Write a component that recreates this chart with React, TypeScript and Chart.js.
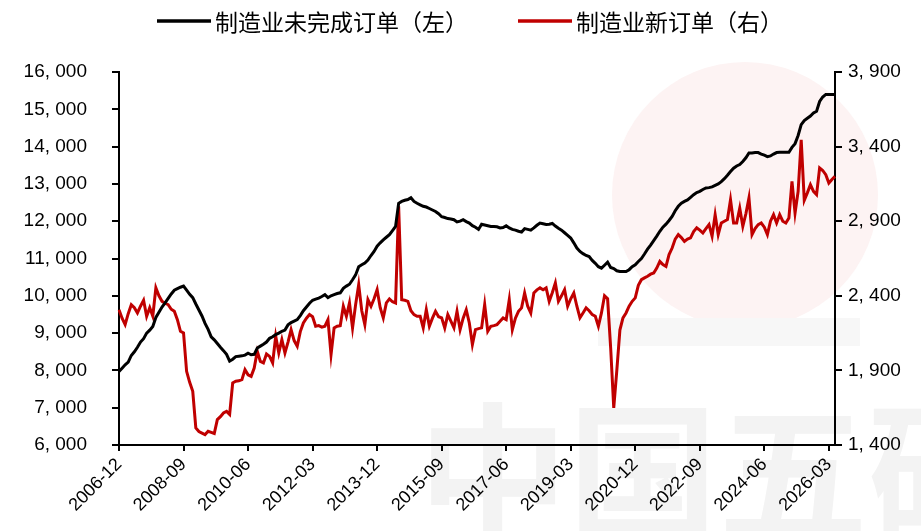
import React, { useEffect, useRef } from 'react';
import { Chart, registerables } from 'chart.js';

Chart.register(...registerables);

// ---- data ----
const START_YEAR = 2006;
const START_MONTH = 12;
const LABEL_STEP = 21;

const seriesNames = ['制造业未完成订单（左）', '制造业新订单（右）'];

// 制造业未完成订单 (left axis), monthly from 2006-12
const unfilledOrders = [
  7970, 8060, 8150, 8220, 8400, 8500, 8620, 8760, 8850, 9000, 9080, 9180,
  9420, 9560, 9700, 9810, 9930, 10050, 10150, 10190, 10230, 10260, 10150, 10040,
  9950, 9780, 9620, 9460, 9260, 9100, 8900, 8820, 8720, 8620, 8530, 8430,
  8250, 8300, 8370, 8380, 8390, 8410, 8460, 8420, 8430, 8600, 8650, 8700,
  8760, 8860, 8900, 8960, 9000, 9050, 9080, 9220, 9280, 9320, 9360, 9470,
  9600, 9700, 9800, 9880, 9910, 9940, 9980, 10030, 9950, 10000, 10030, 10060,
  10080, 10200, 10260, 10310, 10430, 10560, 10780, 10830, 10880, 10960, 11080, 11190,
  11330, 11420, 11500, 11570, 11640, 11750, 11860, 12480, 12530, 12560, 12580, 12630,
  12530, 12480, 12440, 12400, 12380, 12340, 12300, 12260, 12200, 12120, 12100, 12070,
  12060, 12040, 11980, 12000, 12040, 11990, 11950, 11880, 11840, 11780, 11920, 11900,
  11880, 11860, 11860, 11850, 11820, 11830, 11880, 11820, 11780, 11760, 11730, 11710,
  11800, 11780, 11760, 11820, 11890, 11950, 11930, 11910, 11920, 11940, 11870, 11810,
  11760, 11690, 11620, 11550, 11420, 11280, 11190, 11130, 11080, 11050, 10950, 10870,
  10780, 10740, 10820, 10900, 10760, 10730, 10670, 10650, 10650, 10650, 10700, 10780,
  10830, 10920, 11000, 11120, 11250, 11360, 11480, 11600, 11730, 11840, 11920, 12020,
  12130, 12280, 12400, 12480, 12530, 12570, 12640, 12710, 12770, 12800, 12850, 12890,
  12900, 12920, 12960, 13000, 13060, 13140, 13230, 13330, 13420, 13480, 13520, 13600,
  13700, 13830, 13830, 13840, 13840, 13800, 13770, 13730, 13750, 13800, 13840, 13850,
  13850, 13850, 13850, 13980, 14080, 14300, 14590, 14700, 14760, 14820, 14900, 14950,
  15210, 15330, 15400, 15400, 15400, 15400,
];

// 制造业新订单 (right axis), monthly from 2006-12
const newOrders = [
  2307, 2250, 2207, 2280, 2340, 2320, 2285, 2330, 2370, 2263, 2320, 2263,
  2453, 2400, 2363, 2350, 2341, 2310, 2296, 2240, 2162, 2151, 1894, 1820,
  1760, 1515, 1490, 1480, 1470, 1492, 1485, 1477, 1570, 1590, 1615, 1625,
  1605, 1816, 1827, 1830, 1838, 1905, 1870, 1860, 1916, 2028, 1960, 1950,
  2010, 1994, 1950, 2129, 2017, 2106, 2017, 2090, 2173, 2100, 2062, 2160,
  2218, 2250, 2274, 2260, 2196, 2200, 2190, 2196, 2240, 2006, 2185, 2196,
  2200, 2330, 2263, 2352, 2185, 2341, 2475, 2300, 2207, 2374, 2330, 2380,
  2441, 2320, 2252, 2352, 2379, 2360, 2352, 3000, 2374, 2370, 2363, 2300,
  2274, 2263, 2263, 2185, 2307, 2196, 2250, 2296, 2260, 2252, 2185, 2274,
  2230, 2185, 2296, 2173, 2250, 2307, 2218, 2073, 2173, 2180, 2185, 2341,
  2162, 2196, 2200, 2207, 2229, 2252, 2240, 2374, 2173, 2250, 2296, 2319,
  2419, 2330, 2285, 2419, 2440, 2453, 2440, 2453, 2363, 2420, 2486, 2363,
  2400, 2441, 2330, 2380, 2419, 2330, 2252, 2285, 2319, 2300, 2274, 2263,
  2196, 2285, 2400, 2380, 2050, 1649, 1900, 2170, 2252, 2285, 2330, 2363,
  2386, 2470, 2508, 2520, 2531, 2545, 2553, 2586, 2631, 2610, 2597, 2676,
  2720, 2780, 2810, 2790, 2765, 2780, 2788, 2830, 2855, 2840, 2821, 2850,
  2877, 2799, 2944, 2810, 2888, 2900, 2911, 3044, 2888, 2888, 2988, 2866,
  2950, 3056, 2810, 2850, 2877, 2888, 2860, 2810, 2900, 2944, 2888, 2944,
  2900, 2888, 2922, 3167, 2955, 3100, 3446, 3040, 3090, 3145, 3100, 3078,
  3257, 3240, 3212, 3156, 3180, 3200,
];

const months = unfilledOrders.map((_, i) => {
  const t = START_MONTH - 1 + i;
  const y = START_YEAR + Math.floor(t / 12);
  const m = (t % 12) + 1;
  return `${y}-${String(m).padStart(2, '0')}`;
});

const fmtThousands = (v: number) =>
  `${Math.floor(v / 1000)}, ${String(Math.round(v % 1000)).padStart(3, '0')}`;

const TICK_FONT = { family: '"Liberation Sans", Arial, sans-serif', size: 19 };

const backgroundPlugin = {
  id: 'bgWatermark',
  beforeDraw(chart: any) {
    const { ctx } = chart;
    ctx.save();
    ctx.fillStyle = '#ffffff';
    ctx.fillRect(0, 0, chart.width, chart.height);
    // faint logo circle
    ctx.fillStyle = '#fdf3f3';
    ctx.beginPath();
    ctx.arc(745, 195, 133, 0, Math.PI * 2);
    ctx.fill();
    ctx.fillStyle = '#f7f7f7';
    ctx.fillRect(598, 318, 262, 28);
    // faint big text
    ctx.fillStyle = '#f3f3f3';
    ctx.font = 'bold 150px "Noto Sans CJK SC"';
    ctx.textBaseline = 'top';
    ctx.fillText('中国五矿', 418, 398);
    ctx.restore();
  },
};

const legendPlugin = {
  id: 'topLegend',
  afterDraw(chart: any) {
    const { ctx } = chart;
    ctx.save();
    ctx.font = '23px "Noto Sans CJK SC"';
    ctx.textBaseline = 'middle';
    ctx.textAlign = 'left';
    const lineW = 54;
    const gap = 4;
    const spacing = 50;
    const items = chart.data.datasets.map((ds: any) => ({
      label: ds.label as string,
      color: ds.borderColor as string,
    }));
    const widths = items.map((it: any) => lineW + gap + ctx.measureText(it.label).width);
    const total = widths.reduce((a: number, b: number) => a + b, 0) + spacing * (items.length - 1);
    let x = 470 - total / 2;
    const y = 21;
    items.forEach((it: any, i: number) => {
      ctx.strokeStyle = it.color;
      ctx.lineWidth = 3.5;
      ctx.beginPath();
      ctx.moveTo(x, y);
      ctx.lineTo(x + lineW, y);
      ctx.stroke();
      ctx.fillStyle = '#000';
      ctx.fillText(it.label, x + lineW + gap, y + 1);
      x += widths[i] + spacing;
    });
    ctx.restore();
  },
};

export default function App() {
  const ref = useRef<HTMLCanvasElement | null>(null);

  useEffect(() => {
    document.body.style.margin = '0';
    const canvas = ref.current;
    if (!canvas) return;
    const chart = new Chart(canvas, {
      type: 'line',
      data: {
        labels: months,
        datasets: [
          {
            label: seriesNames[0],
            data: unfilledOrders,
            borderColor: '#000000',
            backgroundColor: '#000000',
            borderWidth: 3,
            pointRadius: 0,
            tension: 0,
            yAxisID: 'y',
          },
          {
            label: seriesNames[1],
            data: newOrders,
            borderColor: '#C00000',
            backgroundColor: '#C00000',
            borderWidth: 3,
            pointRadius: 0,
            tension: 0,
            yAxisID: 'y1',
          },
        ],
      },
      options: {
        animation: false,
        responsive: false,
        devicePixelRatio: 1,
        events: [],
        layout: { padding: { top: 72, left: 0, right: 0, bottom: 0 } },
        plugins: {
          legend: { display: false },
          tooltip: { enabled: false },
        },
        scales: {
          x: {
            type: 'category',
            offset: false,
            grid: {
              display: true,
              drawOnChartArea: false,
              drawTicks: true,
              tickLength: 6,
              color: '#000',
              lineWidth: 2,
            },
            border: { display: true, color: '#000', width: 2 },
            ticks: {
              autoSkip: false,
              maxRotation: 45,
              minRotation: 45,
              padding: 3,
              color: '#000',
              font: { ...TICK_FONT, size: 18 },
            },
            afterBuildTicks: (scale: any) => {
              scale.ticks = scale.ticks.filter((t: any) => t.value % LABEL_STEP === 0);
            },
            afterFit: (scale: any) => {
              scale.height = 86;
            },
          },
          y: {
            position: 'left',
            min: 6000,
            max: 16000,
            grid: {
              display: true,
              drawOnChartArea: false,
              drawTicks: true,
              tickLength: 7,
              color: '#000',
              lineWidth: 2,
            },
            border: { display: true, color: '#000', width: 2 },
            ticks: {
              stepSize: 1000,
              padding: 25,
              color: '#000',
              font: TICK_FONT,
              callback: (v: any) => fmtThousands(Number(v)),
            },
            afterFit: (scale: any) => {
              scale.width = 119;
            },
          },
          y1: {
            position: 'right',
            min: 1400,
            max: 3900,
            grid: {
              display: true,
              drawOnChartArea: false,
              drawTicks: true,
              tickLength: 7,
              color: '#000',
              lineWidth: 2,
            },
            border: { display: true, color: '#000', width: 2 },
            ticks: {
              stepSize: 500,
              padding: 6,
              color: '#000',
              font: TICK_FONT,
              callback: (v: any) => fmtThousands(Number(v)),
            },
            afterFit: (scale: any) => {
              scale.width = 86;
            },
          },
        },
      } as any,
      plugins: [backgroundPlugin, legendPlugin],
    });
    return () => chart.destroy();
  }, []);

  return (
    <div style={{ width: 921, height: 531 }}>
      <canvas ref={ref} width={921} height={531} style={{ display: 'block' }} />
    </div>
  );
}
